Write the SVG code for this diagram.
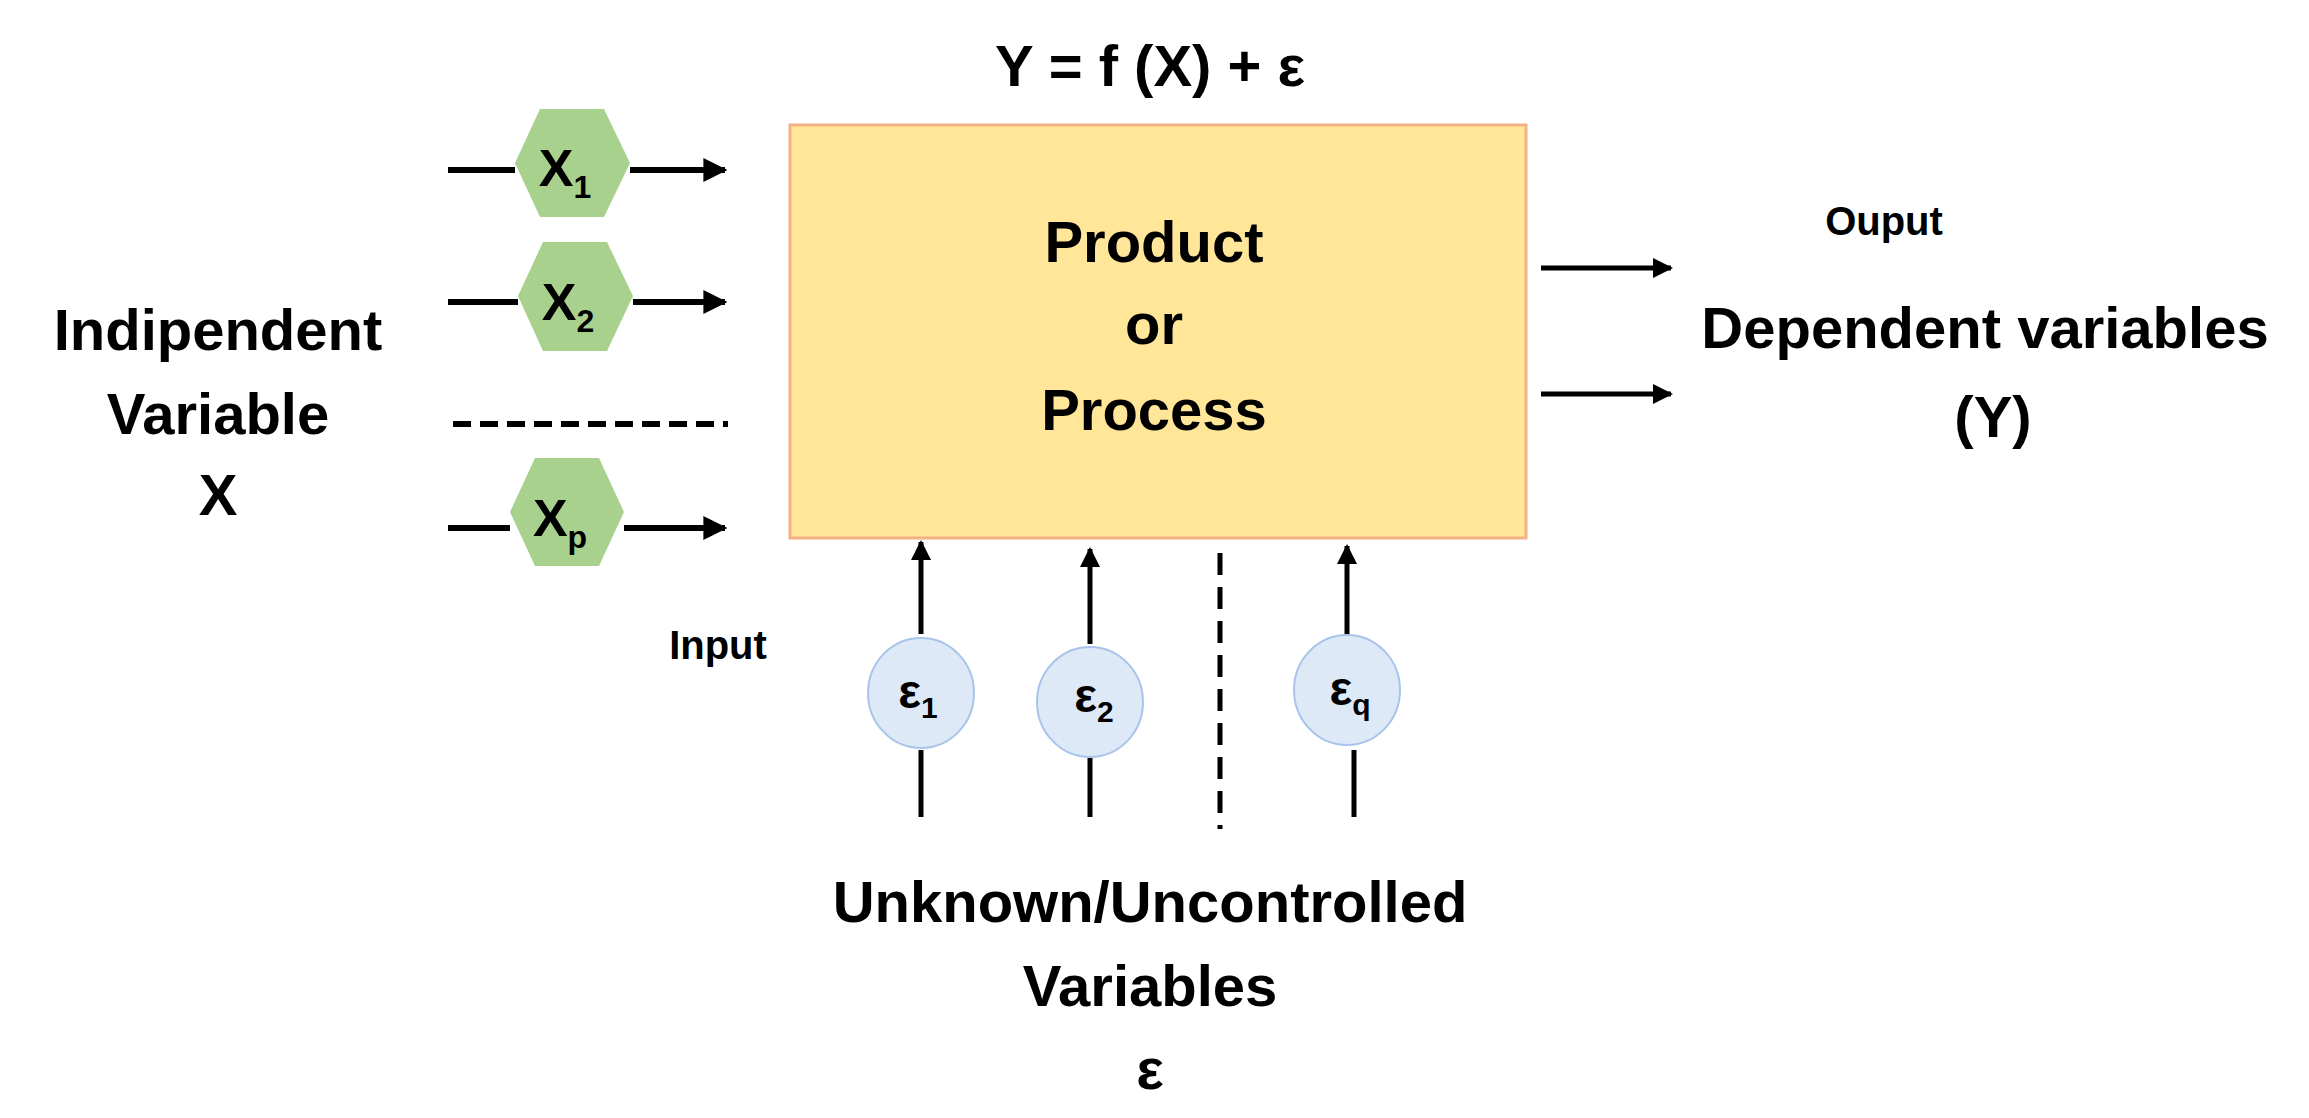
<svg xmlns="http://www.w3.org/2000/svg" width="2309" height="1118" viewBox="0 0 2309 1118">
<defs>
<style>
text{font-family:"Liberation Sans",Arial,sans-serif;font-weight:bold;fill:#000;text-anchor:middle}
.big{font-size:58px}
.sm{font-size:40px}
.hex{fill:#a9d18e}
.circ{fill:#dde9f6;stroke:#a9c4eb;stroke-width:2}
.ln{stroke:#000;stroke-width:6;fill:none}
.lt{stroke:#000;stroke-width:5;fill:none}
</style>
<marker id="ah" viewBox="0 0 10 10" refX="9" refY="5" markerWidth="4" markerHeight="4" orient="auto" markerUnits="strokeWidth"><path d="M0,0L10,5L0,10z" fill="#000"/></marker>
</defs>
<rect width="2309" height="1118" fill="#fff"/>
<text class="big" x="1150" y="86">Y = f (X) + ε</text>
<g id="process">
<rect x="790" y="125" width="736" height="413" fill="#ffe699" stroke="#f4b183" stroke-width="3"/>
<text class="big" x="1154" y="262">Product</text>
<text class="big" x="1154" y="344">or</text>
<text class="big" x="1154" y="430">Process</text>
</g>
<g id="connectors">
<line class="ln" x1="448" y1="170" x2="515" y2="170"/>
<line class="ln" x1="630" y1="170" x2="725" y2="170" marker-end="url(#ah)"/>
<line class="ln" x1="448" y1="302" x2="518" y2="302"/>
<line class="ln" x1="633" y1="302" x2="725" y2="302" marker-end="url(#ah)"/>
<line class="ln" x1="453" y1="424" x2="728" y2="424" stroke-dasharray="18,9"/>
<line class="ln" x1="448" y1="528" x2="510" y2="528"/>
<line class="ln" x1="624" y1="528" x2="725" y2="528" marker-end="url(#ah)"/>
<line class="lt" x1="921" y1="634" x2="921" y2="542" marker-end="url(#ah)"/>
<line class="lt" x1="921" y1="750" x2="921" y2="817"/>
<line class="lt" x1="1090" y1="644" x2="1090" y2="549" marker-end="url(#ah)"/>
<line class="lt" x1="1090" y1="758" x2="1090" y2="817"/>
<line class="lt" x1="1220" y1="553" x2="1220" y2="829" stroke-dasharray="22,12"/>
<line class="lt" x1="1347" y1="635" x2="1347" y2="546" marker-end="url(#ah)"/>
<line class="lt" x1="1354" y1="750" x2="1354" y2="817"/>
<line class="lt" x1="1541" y1="268" x2="1671" y2="268" marker-end="url(#ah)"/>
<line class="lt" x1="1541" y1="394" x2="1671" y2="394" marker-end="url(#ah)"/>
</g>
<g id="x1"><polygon class="hex" points="540,109 604,109 630,163 604,217 540,217 515,163"/><text class="big" x="565" y="186" style="font-size:52px">X<tspan font-size="32" dy="12">1</tspan></text></g>
<g id="x2"><polygon class="hex" points="543,242 607,242 633,296 607,351 543,351 518,296"/><text class="big" x="568" y="320" style="font-size:52px">X<tspan font-size="32" dy="12">2</tspan></text></g>
<g id="xp"><polygon class="hex" points="535,458 599,458 624,512 599,566 535,566 510,512"/><text class="big" x="560" y="536" style="font-size:52px">X<tspan font-size="32" dy="12">p</tspan></text></g>
<g id="e1"><ellipse class="circ" cx="921" cy="693" rx="53" ry="55"/><text class="big" x="918" y="708" style="font-size:48px">ε<tspan font-size="30" dy="10">1</tspan></text></g>
<g id="e2"><ellipse class="circ" cx="1090" cy="702" rx="53" ry="55"/><text class="big" x="1094" y="712" style="font-size:48px">ε<tspan font-size="30" dy="10">2</tspan></text></g>
<g id="eq"><ellipse class="circ" cx="1347" cy="690" rx="53" ry="55"/><text class="big" x="1350" y="705" style="font-size:48px">ε<tspan font-size="30" dy="10">q</tspan></text></g>
<text class="sm" x="718" y="659">Input</text>
<text class="big" x="218" y="350">Indipendent</text>
<text class="big" x="218" y="434">Variable</text>
<text class="big" x="218" y="515">X</text>
<text class="sm" x="1884" y="235">Ouput</text>
<text class="big" x="1985" y="348">Dependent variables</text>
<text class="big" x="1993" y="437">(Y)</text>
<text class="big" x="1150" y="922">Unknown/Uncontrolled</text>
<text class="big" x="1150" y="1006">Variables</text>
<text class="big" x="1150" y="1089">ε</text>
</svg>
